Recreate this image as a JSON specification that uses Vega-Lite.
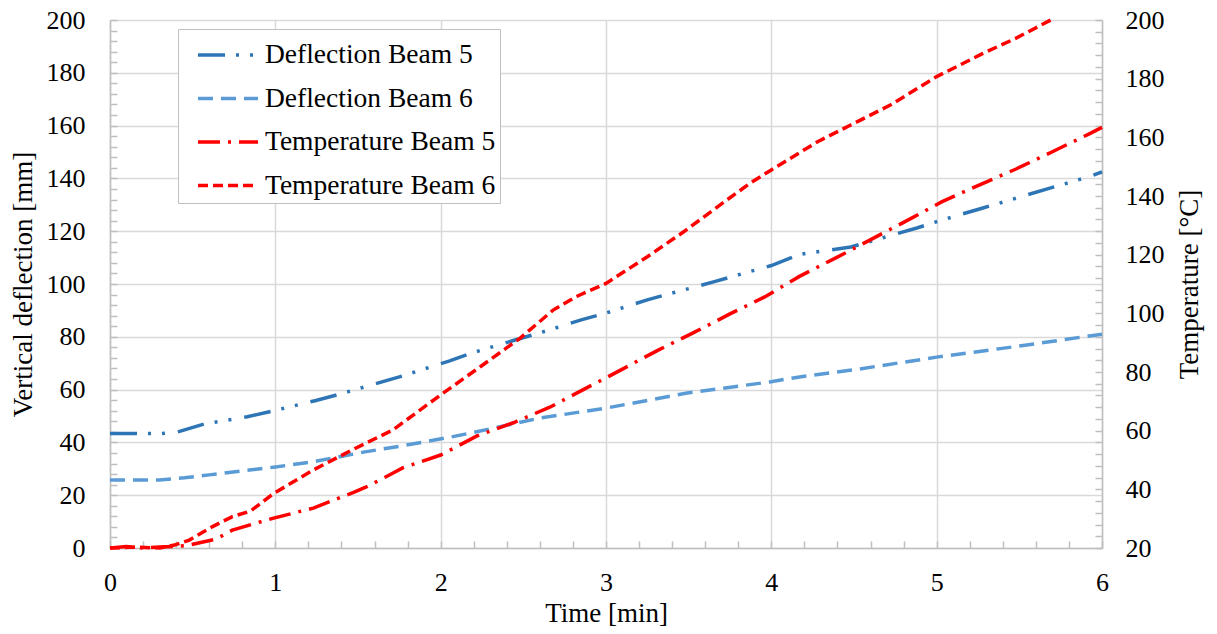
{
  "$schema": "https://vega.github.io/schema/vega-lite/v6.json",
  "width": 992,
  "height": 528,
  "autosize": {"type": "none"},
  "padding": {"left": 110, "top": 20, "right": 115, "bottom": 86},
  "background": "white",
  "config": {
    "font": "Liberation Serif",
    "view": {"stroke": null},
    "axis": {
      "labelFont": "Liberation Serif",
      "titleFont": "Liberation Serif",
      "labelFontSize": 26,
      "titleFontSize": 27,
      "titleFontWeight": "normal",
      "labelColor": "black",
      "titleColor": "black",
      "domainColor": "#bfbfbf",
      "domainWidth": 1.5,
      "tickColor": "#bfbfbf",
      "tickWidth": 1.5,
      "tickSize": -7,
      "gridColor": "#d9d9d9",
      "gridWidth": 1.5,
      "labelOverlap": false,
      "labelFlush": false
    },
    "legend": {
      "labelFont": "Liberation Serif",
      "labelFontSize": 27.5,
      "labelColor": "black",
      "labelLimit": 400
    }
  },
  "data": {
    "values": [
      {"t": 0, "v": 43.4, "s": "Deflection Beam 5"},
      {"t": 0.16, "v": 43.4, "s": "Deflection Beam 5"},
      {"t": 0.3, "v": 43.3, "s": "Deflection Beam 5"},
      {"t": 0.41, "v": 44, "s": "Deflection Beam 5"},
      {"t": 0.57, "v": 47, "s": "Deflection Beam 5"},
      {"t": 0.83, "v": 49.7, "s": "Deflection Beam 5"},
      {"t": 0.99, "v": 52, "s": "Deflection Beam 5"},
      {"t": 1.24, "v": 55.8, "s": "Deflection Beam 5"},
      {"t": 1.39, "v": 58.3, "s": "Deflection Beam 5"},
      {"t": 1.65, "v": 63, "s": "Deflection Beam 5"},
      {"t": 1.75, "v": 64.8, "s": "Deflection Beam 5"},
      {"t": 2.05, "v": 70.8, "s": "Deflection Beam 5"},
      {"t": 2.19, "v": 73.9, "s": "Deflection Beam 5"},
      {"t": 2.45, "v": 78.8, "s": "Deflection Beam 5"},
      {"t": 2.6, "v": 81.5, "s": "Deflection Beam 5"},
      {"t": 2.85, "v": 86.4, "s": "Deflection Beam 5"},
      {"t": 3.0, "v": 89, "s": "Deflection Beam 5"},
      {"t": 3.25, "v": 94, "s": "Deflection Beam 5"},
      {"t": 3.65, "v": 100.8, "s": "Deflection Beam 5"},
      {"t": 4.0, "v": 107, "s": "Deflection Beam 5"},
      {"t": 4.17, "v": 111.2, "s": "Deflection Beam 5"},
      {"t": 4.48, "v": 114, "s": "Deflection Beam 5"},
      {"t": 4.88, "v": 121.2, "s": "Deflection Beam 5"},
      {"t": 5.03, "v": 124.2, "s": "Deflection Beam 5"},
      {"t": 5.28, "v": 128.8, "s": "Deflection Beam 5"},
      {"t": 5.69, "v": 136.4, "s": "Deflection Beam 5"},
      {"t": 5.92, "v": 140.6, "s": "Deflection Beam 5"},
      {"t": 6.0, "v": 142.5, "s": "Deflection Beam 5"},

      {"t": 0, "v": 25.8, "s": "Deflection Beam 6"},
      {"t": 0.3, "v": 25.8, "s": "Deflection Beam 6"},
      {"t": 0.45, "v": 26.6, "s": "Deflection Beam 6"},
      {"t": 0.6, "v": 27.7, "s": "Deflection Beam 6"},
      {"t": 0.99, "v": 30.6, "s": "Deflection Beam 6"},
      {"t": 1.23, "v": 32.7, "s": "Deflection Beam 6"},
      {"t": 1.55, "v": 36.5, "s": "Deflection Beam 6"},
      {"t": 1.75, "v": 38.5, "s": "Deflection Beam 6"},
      {"t": 2.06, "v": 42, "s": "Deflection Beam 6"},
      {"t": 2.2, "v": 43.8, "s": "Deflection Beam 6"},
      {"t": 2.6, "v": 49.2, "s": "Deflection Beam 6"},
      {"t": 3.0, "v": 53, "s": "Deflection Beam 6"},
      {"t": 3.49, "v": 58.7, "s": "Deflection Beam 6"},
      {"t": 3.99, "v": 62.9, "s": "Deflection Beam 6"},
      {"t": 4.17, "v": 64.8, "s": "Deflection Beam 6"},
      {"t": 4.5, "v": 67.5, "s": "Deflection Beam 6"},
      {"t": 5.0, "v": 72.3, "s": "Deflection Beam 6"},
      {"t": 5.5, "v": 76.5, "s": "Deflection Beam 6"},
      {"t": 6.0, "v": 81, "s": "Deflection Beam 6"},

      {"t": 0, "v": 20, "s": "Temperature Beam 5"},
      {"t": 0.1, "v": 20.5, "s": "Temperature Beam 5"},
      {"t": 0.2, "v": 20, "s": "Temperature Beam 5"},
      {"t": 0.3, "v": 20.3, "s": "Temperature Beam 5"},
      {"t": 0.46, "v": 20.8, "s": "Temperature Beam 5"},
      {"t": 0.64, "v": 23, "s": "Temperature Beam 5"},
      {"t": 0.74, "v": 26.1, "s": "Temperature Beam 5"},
      {"t": 0.86, "v": 28.1, "s": "Temperature Beam 5"},
      {"t": 0.99, "v": 30.2, "s": "Temperature Beam 5"},
      {"t": 1.23, "v": 33.6, "s": "Temperature Beam 5"},
      {"t": 1.47, "v": 38.9, "s": "Temperature Beam 5"},
      {"t": 1.55, "v": 40.8, "s": "Temperature Beam 5"},
      {"t": 1.67, "v": 44.3, "s": "Temperature Beam 5"},
      {"t": 1.77, "v": 47.3, "s": "Temperature Beam 5"},
      {"t": 2.0, "v": 51.7, "s": "Temperature Beam 5"},
      {"t": 2.22, "v": 58.2, "s": "Temperature Beam 5"},
      {"t": 2.44, "v": 62.7, "s": "Temperature Beam 5"},
      {"t": 2.66, "v": 68, "s": "Temperature Beam 5"},
      {"t": 2.88, "v": 74.5, "s": "Temperature Beam 5"},
      {"t": 3.0, "v": 78, "s": "Temperature Beam 5"},
      {"t": 3.31, "v": 87.3, "s": "Temperature Beam 5"},
      {"t": 3.53, "v": 93.4, "s": "Temperature Beam 5"},
      {"t": 3.75, "v": 99.8, "s": "Temperature Beam 5"},
      {"t": 3.96, "v": 105.6, "s": "Temperature Beam 5"},
      {"t": 4.17, "v": 112.6, "s": "Temperature Beam 5"},
      {"t": 4.39, "v": 118.9, "s": "Temperature Beam 5"},
      {"t": 4.61, "v": 125.4, "s": "Temperature Beam 5"},
      {"t": 4.82, "v": 131.6, "s": "Temperature Beam 5"},
      {"t": 5.03, "v": 138, "s": "Temperature Beam 5"},
      {"t": 5.26, "v": 143.8, "s": "Temperature Beam 5"},
      {"t": 5.48, "v": 149.2, "s": "Temperature Beam 5"},
      {"t": 5.7, "v": 155.1, "s": "Temperature Beam 5"},
      {"t": 5.92, "v": 161.1, "s": "Temperature Beam 5"},
      {"t": 6.0, "v": 163.4, "s": "Temperature Beam 5"},

      {"t": 0, "v": 20, "s": "Temperature Beam 6"},
      {"t": 0.15, "v": 20.3, "s": "Temperature Beam 6"},
      {"t": 0.3, "v": 20, "s": "Temperature Beam 6"},
      {"t": 0.39, "v": 21, "s": "Temperature Beam 6"},
      {"t": 0.48, "v": 22.7, "s": "Temperature Beam 6"},
      {"t": 0.62, "v": 27.3, "s": "Temperature Beam 6"},
      {"t": 0.74, "v": 30.7, "s": "Temperature Beam 6"},
      {"t": 0.85, "v": 32.6, "s": "Temperature Beam 6"},
      {"t": 0.99, "v": 38.6, "s": "Temperature Beam 6"},
      {"t": 1.23, "v": 46.6, "s": "Temperature Beam 6"},
      {"t": 1.47, "v": 53.6, "s": "Temperature Beam 6"},
      {"t": 1.71, "v": 60.2, "s": "Temperature Beam 6"},
      {"t": 2.0, "v": 72.2, "s": "Temperature Beam 6"},
      {"t": 2.24, "v": 81.8, "s": "Temperature Beam 6"},
      {"t": 2.48, "v": 91.5, "s": "Temperature Beam 6"},
      {"t": 2.68, "v": 101.1, "s": "Temperature Beam 6"},
      {"t": 2.82, "v": 105.7, "s": "Temperature Beam 6"},
      {"t": 3.0, "v": 110.2, "s": "Temperature Beam 6"},
      {"t": 3.25, "v": 119.3, "s": "Temperature Beam 6"},
      {"t": 3.47, "v": 127.8, "s": "Temperature Beam 6"},
      {"t": 3.73, "v": 138.6, "s": "Temperature Beam 6"},
      {"t": 3.87, "v": 144.3, "s": "Temperature Beam 6"},
      {"t": 4.0, "v": 148.9, "s": "Temperature Beam 6"},
      {"t": 4.28, "v": 158.5, "s": "Temperature Beam 6"},
      {"t": 4.48, "v": 164.2, "s": "Temperature Beam 6"},
      {"t": 4.72, "v": 171, "s": "Temperature Beam 6"},
      {"t": 5.0, "v": 180.7, "s": "Temperature Beam 6"},
      {"t": 5.28, "v": 188.6, "s": "Temperature Beam 6"},
      {"t": 5.48, "v": 193.8, "s": "Temperature Beam 6"},
      {"t": 5.69, "v": 200, "s": "Temperature Beam 6"}
    ]
  },
  "encoding": {
    "x": {
      "field": "t",
      "type": "quantitative",
      "scale": {"domain": [0, 6], "nice": false},
      "axis": {
        "title": "Time [min]",
        "labelFont": "Liberation Serif",
        "titleFont": "Liberation Serif",
        "values": [0, 0.2, 0.4, 0.6, 0.8, 1, 1.2, 1.4, 1.6, 1.8, 2, 2.2, 2.4, 2.6, 2.8, 3, 3.2, 3.4, 3.6, 3.8, 4, 4.2, 4.4, 4.6, 4.8, 5, 5.2, 5.4, 5.6, 5.8, 6],
        "labelExpr": "datum.value % 1 === 0 ? format(datum.value, 'd') : ''",
        "gridOpacity": {"condition": {"test": "datum.value % 1 === 0", "value": 1}, "value": 0},
        "labelPadding": 28,
        "titlePadding": 5
      }
    },
    "color": {
      "field": "s",
      "type": "nominal",
      "scale": {
        "domain": ["Deflection Beam 5", "Deflection Beam 6", "Temperature Beam 5", "Temperature Beam 6"],
        "range": ["#2e75b6", "#5b9bd5", "#ff0000", "#ff0000"]
      },
      "legend": {
        "title": null,
        "orient": "none",
        "legendX": 68,
        "legendY": 9,
        "labelFont": "Liberation Serif",
        "symbolType": "M-1.5,0H1.5",
        "symbolStrokeWidth": 3.5,
        "symbolSize": 1600,
        "symbolOffset": 24,
        "labelOffset": 15,
        "rowPadding": 7.5,
        "padding": 4,
        "fillColor": "white",
        "strokeColor": "#bfbfbf"
      }
    },
    "strokeDash": {
      "field": "s",
      "type": "nominal",
      "scale": {
        "domain": ["Deflection Beam 5", "Deflection Beam 6", "Temperature Beam 5", "Temperature Beam 6"],
        "range": [[27, 11, 3, 11, 3, 13], [15, 8], [22, 8, 3, 8], [10, 5]]
      },
      "legend": {
        "title": null,
        "orient": "none",
        "legendX": 68,
        "legendY": 9,
        "labelFont": "Liberation Serif",
        "symbolType": "M-1.5,0H1.5",
        "symbolStrokeWidth": 3.5,
        "symbolSize": 1600,
        "symbolOffset": 24,
        "labelOffset": 15,
        "rowPadding": 7.5,
        "padding": 4,
        "fillColor": "white",
        "strokeColor": "#bfbfbf"
      }
    }
  },
  "layer": [
    {
      "transform": [{"filter": "indexof(datum.s, 'Deflection') === 0"}],
      "mark": {"type": "line", "strokeWidth": 3.5},
      "encoding": {
        "y": {
          "field": "v",
          "type": "quantitative",
          "scale": {"domain": [0, 200], "nice": false},
          "axis": {
            "title": "Vertical deflection [mm]",
            "orient": "left",
            "labelFont": "Liberation Serif",
            "titleFont": "Liberation Serif",
            "values": [0, 4, 8, 12, 16, 20, 24, 28, 32, 36, 40, 44, 48, 52, 56, 60, 64, 68, 72, 76, 80, 84, 88, 92, 96, 100, 104, 108, 112, 116, 120, 124, 128, 132, 136, 140, 144, 148, 152, 156, 160, 164, 168, 172, 176, 180, 184, 188, 192, 196, 200],
            "labelExpr": "datum.value % 20 === 0 ? datum.label : ''",
            "gridOpacity": {"condition": {"test": "datum.value % 20 === 0", "value": 1}, "value": 0},
            "labelPadding": 32,
            "titlePadding": 9
          }
        }
      }
    },
    {
      "transform": [{"filter": "indexof(datum.s, 'Temperature') === 0"}],
      "mark": {"type": "line", "strokeWidth": 3.5},
      "encoding": {
        "y": {
          "field": "v",
          "type": "quantitative",
          "scale": {"domain": [20, 200], "nice": false},
          "axis": {
            "title": "Temperature [°C]",
            "orient": "right",
            "grid": false,
            "labelFont": "Liberation Serif",
            "titleFont": "Liberation Serif",
            "titleAngle": 270,
            "titleBaseline": "top",
            "values": [20, 24, 28, 32, 36, 40, 44, 48, 52, 56, 60, 64, 68, 72, 76, 80, 84, 88, 92, 96, 100, 104, 108, 112, 116, 120, 124, 128, 132, 136, 140, 144, 148, 152, 156, 160, 164, 168, 172, 176, 180, 184, 188, 192, 196, 200],
            "labelExpr": "datum.value % 20 === 0 ? datum.label : ''",
            "labelPadding": 30,
            "titlePadding": 12
          }
        }
      }
    }
  ],
  "resolve": {"scale": {"y": "independent"}}
}
